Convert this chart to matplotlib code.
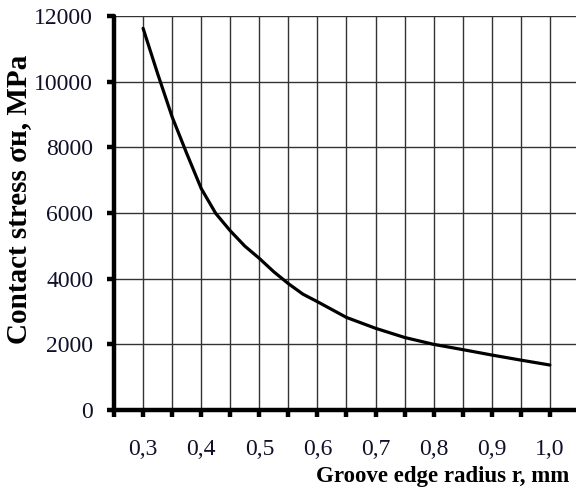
import numpy as np
import matplotlib.pyplot as plt

plt.rcParams['font.family'] = ['Liberation Serif', 'DejaVu Serif']

# groove edge radius r, mm
radius = [0.300, 0.325, 0.350, 0.375, 0.400, 0.425, 0.450, 0.475, 0.500, 0.525,
          0.550, 0.575, 0.600, 0.650, 0.700, 0.750, 0.800, 0.850, 0.900, 0.950, 1.000]
# contact stress, MPa
stress = [11630, 10250, 8930, 7820, 6750, 5990, 5460, 4995, 4620, 4210,
          3850, 3530, 3300, 2820, 2490, 2210, 2000, 1840, 1675, 1520, 1370]

x_ticks = [0.25, 0.30, 0.35, 0.40, 0.45, 0.50, 0.55, 0.60, 0.65, 0.70, 0.75, 0.80, 0.85, 0.90, 0.95, 1.00]
x_labels = ['', '0,3', '', '0,4', '', '0,5', '', '0,6', '', '0,7', '', '0,8', '', '0,9', '', '1,0']
y_ticks = [0, 2000, 4000, 6000, 8000, 10000, 12000]

fig = plt.figure(figsize=(5.76, 4.91), dpi=100)
ax = fig.add_axes([0.198, 0.165, 0.802, 0.802])

ax.plot(radius, stress, '-', color='black', lw=2.3, zorder=3,
        solid_joinstyle='round', solid_capstyle='round')

ax.set_xlim(0.25, 1.045)
ax.set_ylim(0, 12000)
ax.set_xticks(x_ticks)
ax.set_xticklabels(x_labels)
ax.set_yticks(y_ticks)

ax.grid(True, color='#333333', lw=1.0)
ax.set_axisbelow(True)

for s in ['top', 'right']:
    ax.spines[s].set_visible(False)
for s in ['left', 'bottom']:
    ax.spines[s].set_linewidth(3.2)
    ax.spines[s].set_capstyle('round')

ax.tick_params(direction='out', length=5, width=3.2, labelsize=17,
               colors='black', labelcolor='#10102a')
ax.tick_params(axis='x', pad=16)
ax.tick_params(axis='y', pad=10)

ax.set_ylabel('Contact stress σн, MPa', fontsize=21, fontweight='bold')
ax.yaxis.set_label_coords(-0.178, 0.535)
ax.set_xlabel('Groove edge radius r, mm', fontsize=16.5, fontweight='bold')
ax.xaxis.set_label_coords(0.712, -0.142)

fig.savefig('out.png', dpi=100)
